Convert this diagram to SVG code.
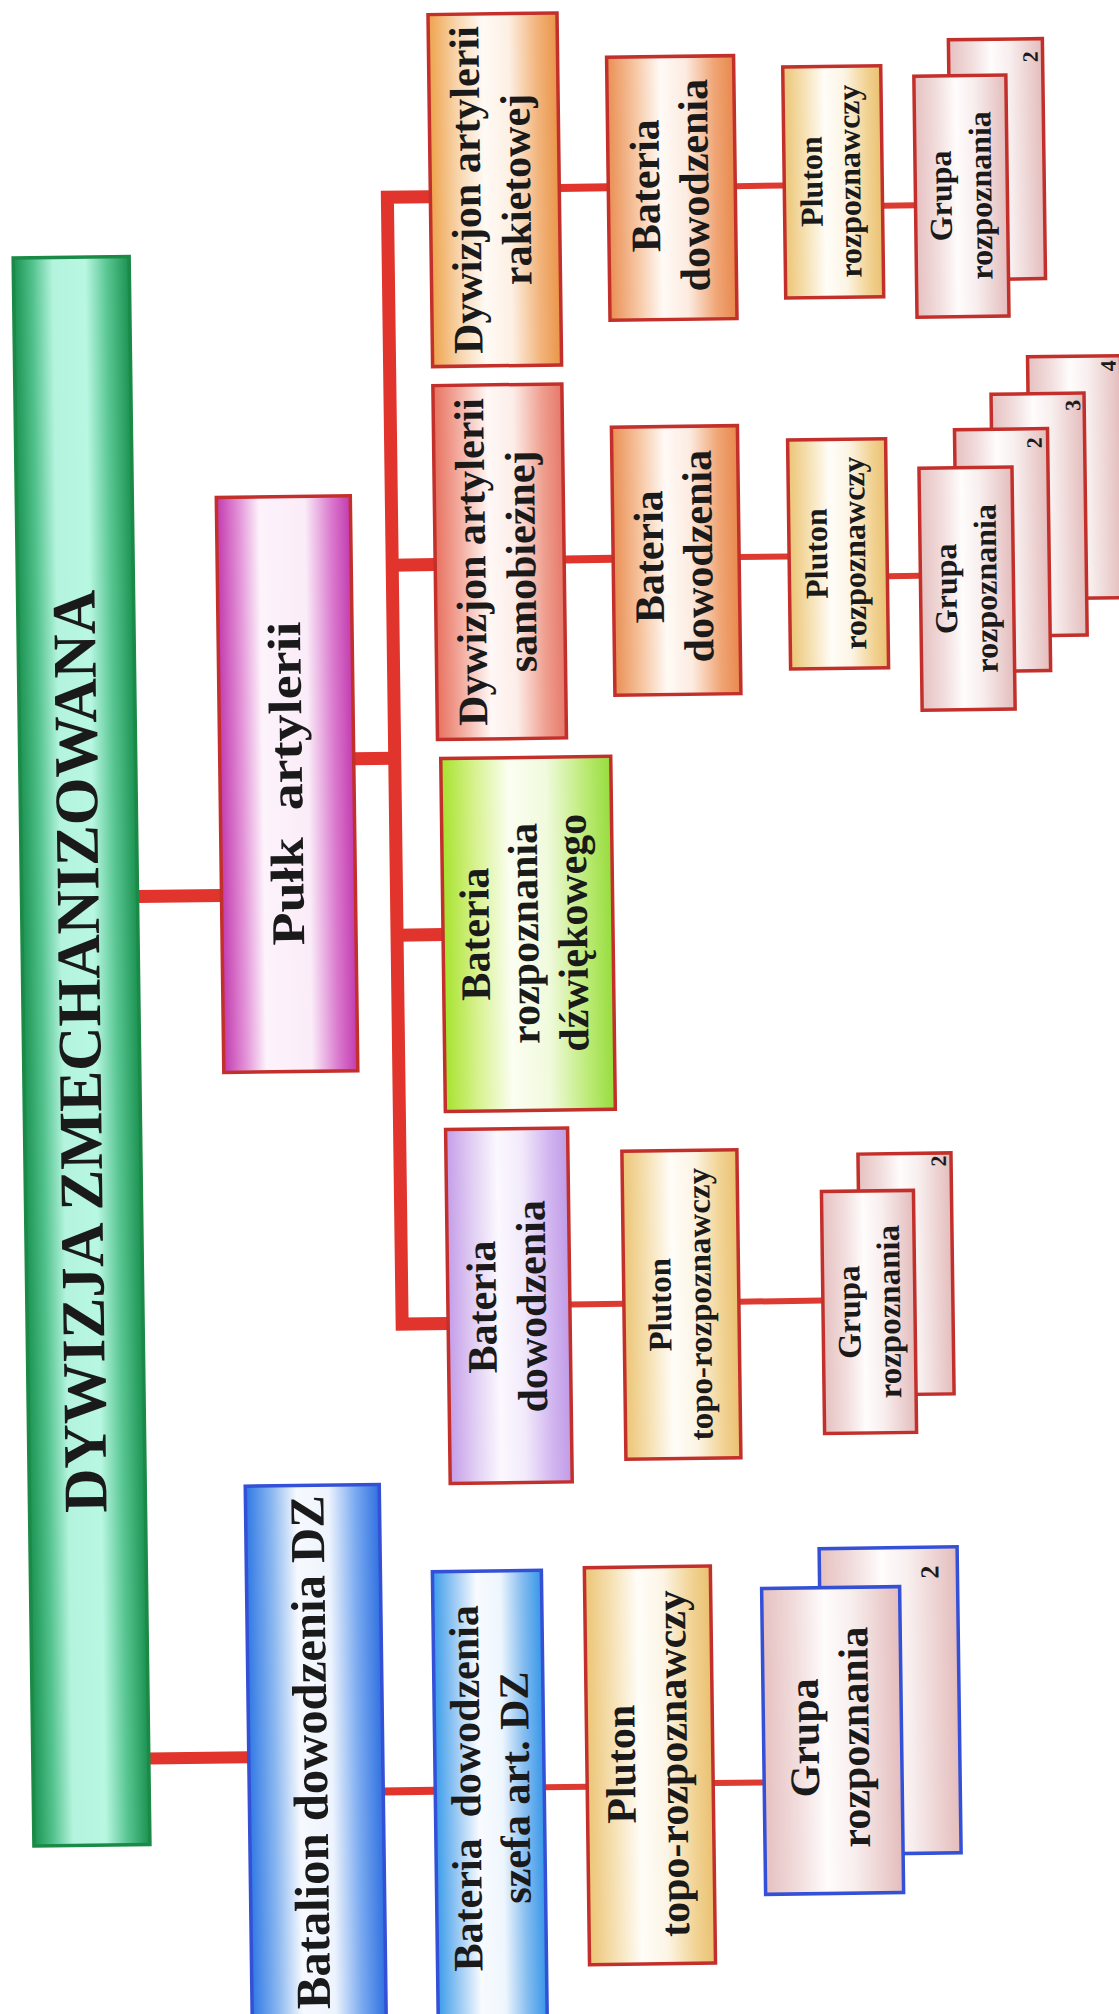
<svg xmlns="http://www.w3.org/2000/svg" width="1119" height="2014" viewBox="0 0 1119 2014">
  <style>
    .box { stroke-width: 3.5; }
    .red { stroke: #c3302b; }
    .blue { stroke: #3350d6; }
    .grn { stroke: #1b8a46; }
    .lbl { font-family: "Liberation Serif", "Times New Roman", serif; font-weight: bold; fill: #1a1a1a; text-anchor: middle; white-space: pre; }
    .f62 { font-size: 62px; }
    .f49 { font-size: 49px; }
    .f47 { font-size: 47px; }
    .f42 { font-size: 42px; }
    .f33 { font-size: 33px; }
    .f32 { font-size: 32px; }
    .n22 { font-size: 22px; }
    .n26 { font-size: 26px; }
    .main { stroke: #e0342c; stroke-width: 13; fill: none; stroke-linejoin: miter; }
    .sub { stroke: #e0342c; stroke-width: 8; fill: none; }
    .thin { stroke: #dd3a32; stroke-width: 6; fill: none; }
  </style>
  <defs>
    <linearGradient id="gGreen" x1="0" y1="0" x2="1" y2="0">
      <stop offset="0" stop-color="#1a9150"/>
      <stop offset="0.16" stop-color="#4fc08a"/>
      <stop offset="0.34" stop-color="#b4f4de"/>
      <stop offset="0.62" stop-color="#b8f7e2"/>
      <stop offset="0.8" stop-color="#5cc895"/>
      <stop offset="1" stop-color="#1a9150"/>
    </linearGradient>
    <linearGradient id="gMag" x1="0" y1="0" x2="1" y2="0">
      <stop offset="0" stop-color="#c23aae"/>
      <stop offset="0.17" stop-color="#e394d8"/>
      <stop offset="0.32" stop-color="#fdf3fb"/>
      <stop offset="0.66" stop-color="#faecf8"/>
      <stop offset="0.85" stop-color="#db7ccf"/>
      <stop offset="1" stop-color="#c23aae"/>
    </linearGradient>
    <linearGradient id="gBlue" x1="0" y1="0" x2="1" y2="0">
      <stop offset="0" stop-color="#2f78e4"/>
      <stop offset="0.2" stop-color="#8cb8f0"/>
      <stop offset="0.38" stop-color="#f6f9fe"/>
      <stop offset="0.62" stop-color="#eef4fd"/>
      <stop offset="0.82" stop-color="#7aaaf0"/>
      <stop offset="1" stop-color="#2f70e0"/>
    </linearGradient>
    <linearGradient id="gCyan" x1="0" y1="0" x2="1" y2="0">
      <stop offset="0" stop-color="#3a9cea"/>
      <stop offset="0.2" stop-color="#9ccaf4"/>
      <stop offset="0.4" stop-color="#f8fbff"/>
      <stop offset="0.62" stop-color="#eef6fd"/>
      <stop offset="0.82" stop-color="#86bdf0"/>
      <stop offset="1" stop-color="#3596e8"/>
    </linearGradient>
    <linearGradient id="gOrange" x1="0" y1="0" x2="1" y2="0">
      <stop offset="0" stop-color="#eea24a"/>
      <stop offset="0.22" stop-color="#f8d6ae"/>
      <stop offset="0.42" stop-color="#fffaf5"/>
      <stop offset="0.62" stop-color="#fdf0e4"/>
      <stop offset="0.84" stop-color="#f2b47c"/>
      <stop offset="1" stop-color="#ea9448"/>
    </linearGradient>
    <linearGradient id="gSalmon" x1="0" y1="0" x2="1" y2="0">
      <stop offset="0" stop-color="#e8705e"/>
      <stop offset="0.22" stop-color="#f4b4a8"/>
      <stop offset="0.42" stop-color="#fff8f6"/>
      <stop offset="0.62" stop-color="#fcede9"/>
      <stop offset="0.84" stop-color="#efa090"/>
      <stop offset="1" stop-color="#e6786a"/>
    </linearGradient>
    <linearGradient id="gLime" x1="0" y1="0" x2="1" y2="0">
      <stop offset="0" stop-color="#a6e22c"/>
      <stop offset="0.2" stop-color="#d8f290"/>
      <stop offset="0.4" stop-color="#fbfef2"/>
      <stop offset="0.62" stop-color="#f0fadc"/>
      <stop offset="0.84" stop-color="#bdeb78"/>
      <stop offset="1" stop-color="#96dc3c"/>
    </linearGradient>
    <linearGradient id="gLilac" x1="0" y1="0" x2="1" y2="0">
      <stop offset="0" stop-color="#c49ce8"/>
      <stop offset="0.22" stop-color="#e2d0f4"/>
      <stop offset="0.42" stop-color="#fbf8fe"/>
      <stop offset="0.62" stop-color="#f2eafb"/>
      <stop offset="0.84" stop-color="#d2b6f0"/>
      <stop offset="1" stop-color="#c09ae6"/>
    </linearGradient>
    <linearGradient id="gPeach" x1="0" y1="0" x2="1" y2="0">
      <stop offset="0" stop-color="#ea8e52"/>
      <stop offset="0.22" stop-color="#f6c6a2"/>
      <stop offset="0.42" stop-color="#fffaf6"/>
      <stop offset="0.62" stop-color="#fcebe0"/>
      <stop offset="0.84" stop-color="#f0a676"/>
      <stop offset="1" stop-color="#e8884c"/>
    </linearGradient>
    <linearGradient id="gSand" x1="0" y1="0" x2="1" y2="0">
      <stop offset="0" stop-color="#ecc474"/>
      <stop offset="0.22" stop-color="#f6e2b6"/>
      <stop offset="0.42" stop-color="#fffdf8"/>
      <stop offset="0.62" stop-color="#fcf5e6"/>
      <stop offset="0.84" stop-color="#f2d496"/>
      <stop offset="1" stop-color="#eac070"/>
    </linearGradient>
    <linearGradient id="gRose" x1="0" y1="0" x2="1" y2="0">
      <stop offset="0" stop-color="#e6c0c0"/>
      <stop offset="0.25" stop-color="#f2dede"/>
      <stop offset="0.45" stop-color="#fffcfc"/>
      <stop offset="0.65" stop-color="#f8eeee"/>
      <stop offset="1" stop-color="#e4bcbc"/>
    </linearGradient>
  </defs>

  <rect width="1119" height="2014" fill="#ffffff"/>

  <!-- whole chart, tilted slightly as printed -->
  <g transform="rotate(-0.75 560 1007)">

    <g id="connectors">
      <path class="main" d="M139 891 H223"/>
      <path class="main" d="M139 1753 H239" style="stroke-width:12"/>
      <path class="main" d="M357 756 H398"/>
      <path class="main" d="M441 195 H398 V1322 H444"/>
      <path class="main" d="M398 563 H441"/>
      <path class="main" d="M398 933 H444"/>
      <path class="sub" d="M570 188 H619"/>
      <path class="thin" d="M746 188.5 H795"/>
      <path class="thin" d="M893 210 H926"/>
      <path class="sub" d="M570 559.5 H619"/>
      <path class="thin" d="M745 559.5 H795"/>
      <path class="thin" d="M893 580.5 H926"/>
      <path class="thin" d="M566 1304.5 H620"/>
      <path class="thin" d="M735 1304 H819"/>
      <path class="sub" d="M373 1789 H425"/>
      <path class="thin" d="M534 1787 H577"/>
      <path class="thin" d="M703 1785 H754"/>
    </g>

    <g id="dywizja">
      <rect class="box grn" x="23" y="251" width="116" height="1588" fill="url(#gGreen)"/>
      <text class="lbl f62" transform="translate(100 1045) rotate(-90)" textLength="923" lengthAdjust="spacingAndGlyphs">DYWIZJA ZMECHANIZOWANA</text>
    </g>

    <g id="pulk">
      <rect class="box red" x="223" y="493" width="134" height="575" fill="url(#gMag)"/>
      <text class="lbl f47" transform="translate(305 780) rotate(-90)" textLength="324" lengthAdjust="spacingAndGlyphs">Pułk  artylerii</text>
    </g>

    <g id="batalion">
      <rect class="box blue" x="239" y="1482" width="134" height="560" fill="url(#gBlue)"/>
      <text class="lbl f49" transform="translate(317 1749) rotate(-90)" textLength="514" lengthAdjust="spacingAndGlyphs">Batalion dowodzenia DZ</text>
    </g>

    <g id="dyw-rakietowej">
      <rect class="box red" x="441" y="13" width="129" height="352" fill="url(#gOrange)"/>
      <text class="lbl f42" transform="translate(491 189) rotate(-90)"><tspan x="0" y="0">Dywizjon artylerii</tspan><tspan x="0" y="50">rakietowej</tspan></text>
    </g>

    <g id="dyw-samobieznej">
      <rect class="box red" x="441" y="384" width="129" height="354" fill="url(#gSalmon)"/>
      <text class="lbl f42" transform="translate(491 561) rotate(-90)"><tspan x="0" y="0">Dywizjon artylerii</tspan><tspan x="0" y="50">samobieżnej</tspan></text>
    </g>

    <g id="bateria-dzwiekowego">
      <rect class="box red" x="444" y="757" width="170" height="353" fill="url(#gLime)"/>
      <text class="lbl f42" transform="translate(490 933) rotate(-90)"><tspan x="0" y="0">Bateria</tspan><tspan x="0" y="49">rozpoznania</tspan><tspan x="0" y="98">dźwiękowego</tspan></text>
    </g>

    <g id="bateria-pulku">
      <rect class="box red" x="444" y="1128" width="122" height="354" fill="url(#gLilac)"/>
      <text class="lbl f42" transform="translate(492 1306) rotate(-90)"><tspan x="0" y="0">Bateria</tspan><tspan x="0" y="50">dowodzenia</tspan></text>
    </g>

    <!-- rocket artillery branch -->
    <g id="rak-bateria">
      <rect class="box red" x="619" y="58" width="127" height="263" fill="url(#gPeach)"/>
      <text class="lbl f42" transform="translate(670 187) rotate(-90)"><tspan x="0" y="0">Bateria</tspan><tspan x="0" y="49">dowodzenia</tspan></text>
    </g>
    <g id="rak-pluton">
      <rect class="box red" x="795" y="70" width="98" height="231" fill="url(#gSand)"/>
      <text class="lbl f32" transform="translate(833 185) rotate(-90)"><tspan x="0" y="0">Pluton</tspan><tspan x="0" y="38">rozpoznawczy</tspan></text>
    </g>
    <g id="rak-grupa-2">
      <rect class="box red" x="961" y="45" width="94" height="240" fill="url(#gRose)"/>
      <text class="lbl n22" transform="translate(1050 63) rotate(-90)">2</text>
    </g>
    <g id="rak-grupa">
      <rect class="box red" x="926" y="81" width="92" height="241" fill="url(#gRose)"/>
      <text class="lbl f32" transform="translate(962 201) rotate(-90)"><tspan x="0" y="0">Grupa</tspan><tspan x="0" y="40">rozpoznania</tspan></text>
    </g>

    <!-- self-propelled artillery branch -->
    <g id="sam-bateria">
      <rect class="box red" x="619" y="428" width="126" height="268" fill="url(#gPeach)"/>
      <text class="lbl f42" transform="translate(669 558) rotate(-90)"><tspan x="0" y="0">Bateria</tspan><tspan x="0" y="49">dowodzenia</tspan></text>
    </g>
    <g id="sam-pluton">
      <rect class="box red" x="795" y="443" width="98" height="229" fill="url(#gSand)"/>
      <text class="lbl f32" transform="translate(833 557) rotate(-90)"><tspan x="0" y="0">Pluton</tspan><tspan x="0" y="38">rozpoznawczy</tspan></text>
    </g>
    <g id="sam-grupa-4">
      <rect class="box red" x="1036" y="363" width="93" height="242" fill="url(#gRose)"/>
      <text class="lbl n22" transform="translate(1124 373) rotate(-90)">4</text>
    </g>
    <g id="sam-grupa-3">
      <rect class="box red" x="999" y="400" width="93" height="242" fill="url(#gRose)"/>
      <text class="lbl n22" transform="translate(1088 412) rotate(-90)">3</text>
    </g>
    <g id="sam-grupa-2">
      <rect class="box red" x="962" y="435" width="93" height="242" fill="url(#gRose)"/>
      <text class="lbl n22" transform="translate(1049 449) rotate(-90)">2</text>
    </g>
    <g id="sam-grupa">
      <rect class="box red" x="926" y="473" width="93" height="242" fill="url(#gRose)"/>
      <text class="lbl f32" transform="translate(962 594) rotate(-90)"><tspan x="0" y="0">Grupa</tspan><tspan x="0" y="40">rozpoznania</tspan></text>
    </g>

    <!-- regimental command battery branch -->
    <g id="pulk-pluton">
      <rect class="box red" x="620" y="1152" width="115" height="308" fill="url(#gSand)"/>
      <text class="lbl f33" transform="translate(667 1306) rotate(-90)"><tspan x="0" y="0">Pluton</tspan><tspan x="0" y="40">topo-rozpoznawczy</tspan></text>
    </g>
    <g id="pulk-grupa-2">
      <rect class="box red" x="856" y="1158" width="93" height="241" fill="url(#gRose)"/>
      <text class="lbl n22" transform="translate(944 1166) rotate(-90)">2</text>
    </g>
    <g id="pulk-grupa">
      <rect class="box red" x="819" y="1195" width="92" height="242" fill="url(#gRose)"/>
      <text class="lbl f33" transform="translate(856 1316) rotate(-90)"><tspan x="0" y="0">Grupa</tspan><tspan x="0" y="40">rozpoznania</tspan></text>
    </g>

    <!-- divisional artillery chief's battery branch -->
    <g id="szef-bateria">
      <rect class="box blue" x="425" y="1570" width="109" height="470" fill="url(#gCyan)"/>
      <text class="lbl f42" transform="translate(470 1787) rotate(-90)"><tspan x="0" y="0">Bateria  dowodzenia</tspan><tspan x="0" y="49">szefa art. DZ</tspan></text>
    </g>
    <g id="szef-pluton">
      <rect class="box red" x="577" y="1568" width="126" height="397" fill="url(#gSand)"/>
      <text class="lbl f42" transform="translate(625 1765) rotate(-90)"><tspan x="0" y="0">Pluton</tspan><tspan x="0" y="52">topo-rozpoznawczy</tspan></text>
    </g>
    <g id="szef-grupa-2">
      <rect class="box blue" x="812" y="1552" width="138" height="306" fill="url(#gRose)"/>
      <text class="lbl n26" transform="translate(931 1577) rotate(-90)">2</text>
    </g>
    <g id="szef-grupa">
      <rect class="box blue" x="754" y="1591" width="138" height="306" fill="url(#gRose)"/>
      <text class="lbl f42" transform="translate(809 1741) rotate(-90)"><tspan x="0" y="0">Grupa</tspan><tspan x="0" y="50">rozpoznania</tspan></text>
    </g>
  </g>
</svg>
